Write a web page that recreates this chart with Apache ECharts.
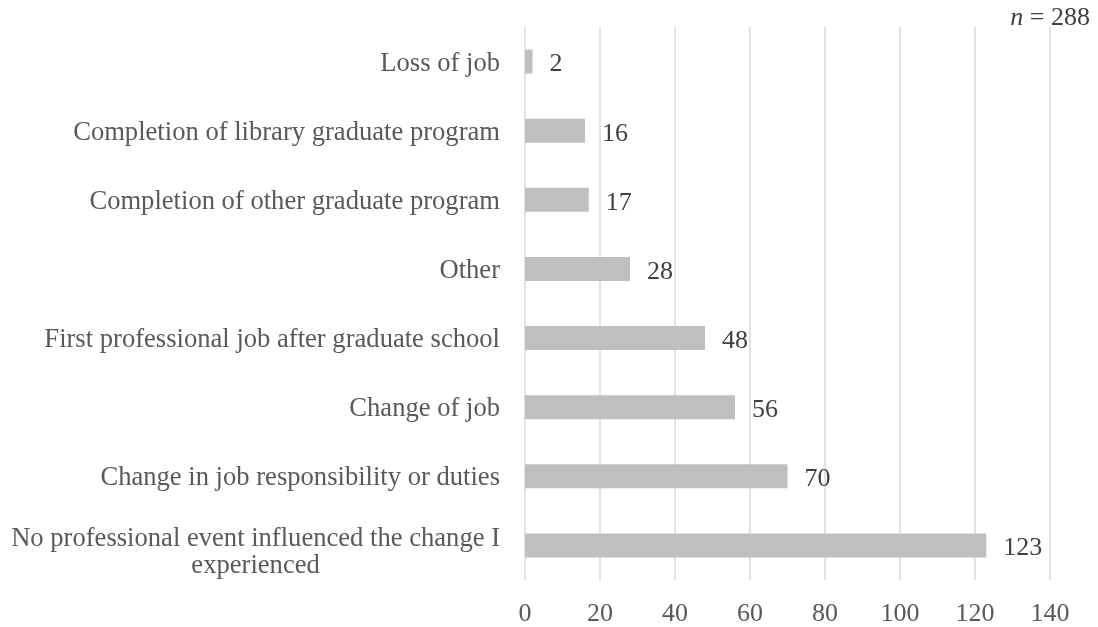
<!DOCTYPE html>
<html>
<head>
<meta charset="utf-8">
<script src="https://cdn.jsdelivr.net/npm/echarts@6/dist/echarts.min.js"></script>
<style>
  html, body { margin: 0; padding: 0; background: #fff; }
  #chart { width: 1098px; height: 627px; }
</style>
</head>
<body>
<div id="chart"></div>
<script>
// Professional events that influenced the change (top to bottom)
const categories = [
  'Loss of job',
  'Completion of library graduate program',
  'Completion of other graduate program',
  'Other',
  'First professional job after graduate school',
  'Change of job',
  'Change in job responsibility or duties',
  'No professional event influenced the change I experienced'
];
const counts = [2, 16, 17, 28, 48, 56, 70, 123];
const axisMin = 0, axisMax = 140, axisStep = 20;

const serif = '"Liberation Serif", "Times New Roman", serif';
const WRAP_AT = 46;

// Long category names wrap onto two centred lines and sit slightly lower
const categoryItems = categories.map(function (name) {
  return name.length > WRAP_AT
    ? { value: name, textStyle: { padding: [14, 0, 0, 0] } }
    : { value: name };
});

const chart = echarts.init(document.getElementById('chart'), null, { renderer: 'canvas' });
chart.setOption({
  animation: false,
  backgroundColor: '#ffffff',
  grid: { left: 525, right: 48, top: 27, bottom: 43, containLabel: false },
  graphic: [{
    type: 'text',
    right: 8,
    top: 5,
    style: {
      text: '{i|n} = 288',
      rich: {
        i: { fontFamily: serif, fontStyle: 'italic', fontSize: 26, fill: '#404040' }
      },
      fontFamily: serif,
      fontSize: 26,
      fill: '#404040'
    }
  }],
  xAxis: {
    type: 'value',
    min: axisMin,
    max: axisMax,
    interval: axisStep,
    axisLine: { show: false },
    axisTick: { show: false },
    splitLine: { show: true, lineStyle: { color: '#d9d9d9', width: 1.5 } },
    axisLabel: { fontFamily: serif, fontSize: 26, color: '#595959', margin: 21 }
  },
  yAxis: {
    type: 'category',
    inverse: true,
    data: categoryItems,
    axisLine: { show: false },
    axisTick: { show: false },
    axisLabel: {
      fontFamily: serif,
      fontSize: 26.6,
      color: '#595959',
      margin: 25,
      lineHeight: 27,
      padding: [4, 0, 0, 0],
      formatter: function (v) {
        if (v.length > WRAP_AT) {
          const cut = v.lastIndexOf(' ', 50);
          return '{c|' + v.slice(0, cut) + '}\n{c|' + v.slice(cut + 1) + '}';
        }
        return v;
      },
      rich: {
        c: { align: 'center', fontFamily: serif, fontSize: 26.6, color: '#595959', lineHeight: 27 }
      }
    }
  },
  series: [{
    type: 'bar',
    data: counts,
    barWidth: 24,
    itemStyle: { color: '#bfbfbf' },
    label: {
      show: true,
      position: 'right',
      distance: 17,
      fontFamily: serif,
      fontSize: 26,
      color: '#404040',
      offset: [0, 3]
    }
  }]
});
</script>
</body>
</html>
